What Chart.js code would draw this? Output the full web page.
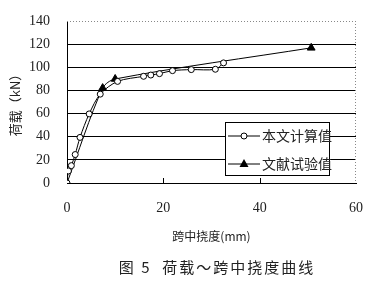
<!DOCTYPE html>
<html><head><meta charset="utf-8">
<script src="https://cdn.jsdelivr.net/npm/chart.js@4"></script>
<style>
html,body{margin:0;padding:0;background:#fff;}
#wrap{position:relative;width:368px;height:287px;}
#c{position:absolute;left:0;top:0;}
#legend{position:absolute;left:225px;top:122px;width:105px;height:54px;border:1px solid #000;background:#fff;box-sizing:border-box;font-family:"Noto Sans CJK SC";font-size:14px;color:#222;}
.row{position:absolute;left:1px;height:18px;line-height:18px;white-space:nowrap;}
.row svg{position:absolute;left:0;top:0;}
.row span{position:absolute;left:35px;top:-1px;}
#caption{position:absolute;left:0;width:434px;top:256px;text-align:center;font-family:"Noto Sans CJK SC";font-size:15px;color:#222;letter-spacing:2px;white-space:pre;}
</style></head><body>
<div id="wrap">
<canvas id="c" width="368" height="287"></canvas>
<div id="legend">
 <div class="row" style="top:4px"><svg width="36" height="18"><line x1="1" y1="9" x2="33" y2="9" stroke="#000" stroke-width="1"/><circle cx="17" cy="9" r="3" fill="#fff" stroke="#000"/></svg><span>本文计算值</span></div>
 <div class="row" style="top:32px"><svg width="36" height="18"><line x1="1" y1="9" x2="33" y2="9" stroke="#000" stroke-width="1"/><polygon points="17,4 21.5,12 12.5,12" fill="#000"/></svg><span>文献试验值</span></div>
</div>
<div id="caption">图 5  荷载～跨中挠度曲线</div>
</div>
<script>
const calcX = [0, 0.3, 0.9, 1.7, 2.7, 4.6, 6.9, 10.5, 15.9, 17.4, 19.2, 21.9, 25.8, 30.8, 32.5];
const calcY = [0, 10.4, 15, 24.6, 39.4, 59.7, 76.8, 87.8, 92.2, 93.3, 94.5, 97.1, 98, 98.3, 103.8];
const testX = [0, 7.4, 10, 50.7];
const testY = [0, 82, 89.9, 116.8];
const xTicks = [0, 20, 40, 60];
const yTicks = [0, 20, 40, 60, 80, 100, 120, 140];
const seriesNames = ['本文计算值', '文献试验值'];
const xTitle = '跨中挠度(mm)';
const yTitle = '荷载（kN）';

const toPts = (xs, ys) => xs.map((x, i) => ({x, y: ys[i]}));

const framePlugin = {
  id: 'frame',
  afterDraw(chart) {
    const {ctx, chartArea: a, scales: {x}} = chart;
    ctx.save();
    ctx.strokeStyle = '#888';
    ctx.lineWidth = 1;
    ctx.setLineDash([1, 2]);
    ctx.beginPath();
    ctx.moveTo(a.left, Math.round(a.top) + 0.5); ctx.lineTo(a.right, Math.round(a.top) + 0.5);
    ctx.moveTo(Math.round(a.right) - 0.5, a.top); ctx.lineTo(Math.round(a.right) - 0.5, a.bottom);
    ctx.stroke();
    ctx.setLineDash([]);
    ctx.strokeStyle = '#000';
    ctx.beginPath();
    xTicks.slice(1, -1).forEach(v => {
      const px = Math.round(x.getPixelForValue(v)) + 0.5;
      ctx.moveTo(px, a.bottom); ctx.lineTo(px, a.bottom - 5);
    });
    ctx.stroke();
    ctx.restore();
  }
};

new Chart(document.getElementById('c'), {
  type: 'scatter',
  data: {
    datasets: [
      {label: seriesNames[0], data: toPts(calcX, calcY), showLine: true, tension: 0.3,
       borderColor: '#000', borderWidth: 1, pointStyle: 'circle', pointRadius: 3,
       pointBackgroundColor: '#fff', pointBorderColor: '#000', pointBorderWidth: 1},
      {label: seriesNames[1], data: toPts(testX, testY), showLine: true, tension: 0.3,
       borderColor: '#000', borderWidth: 1, pointStyle: 'triangle', pointRadius: 4.5,
       pointBackgroundColor: '#000', pointBorderColor: '#000', pointBorderWidth: 1}
    ]
  },
  options: {
    responsive: false,
    animation: false,
    devicePixelRatio: 1,
    layout: {padding: {top: 21, right: 12, bottom: 39, left: 0}},
    plugins: {legend: {display: false}, tooltip: {enabled: false}},
    scales: {
      x: {
        type: 'linear', min: 0, max: 60,
        afterBuildTicks: s => { s.ticks = xTicks.map(v => ({value: v})); },
        afterFit: s => { s.height = 65; s.paddingLeft = 0; s.paddingRight = 0; },
        grid: {display: false, drawTicks: false},
        border: {color: '#000', width: 1},
        ticks: {padding: 17, color: '#222', font: {family: 'Liberation Serif', size: 14}, maxRotation: 0},
        title: {display: true, text: xTitle, color: '#222', padding: {top: 0, bottom: 4},
                font: {family: 'Noto Sans CJK SC', size: 12}}
      },
      y: {
        type: 'linear', min: 0, max: 140,
        afterBuildTicks: s => { s.ticks = yTicks.map(v => ({value: v})); },
        afterFit: s => { s.width = 67; s.paddingTop = 0; s.paddingBottom = 0; },
        grid: {drawTicks: false, color: c => (c.tick && c.tick.value === 140) ? 'rgba(0,0,0,0)' : '#000', lineWidth: 1},
        border: {color: '#000', width: 1},
        ticks: {padding: 17, color: '#222', font: {family: 'Liberation Serif', size: 14}},
        title: {display: true, text: yTitle, color: '#222', padding: {top: 7, bottom: 0},
                font: {family: 'Noto Sans CJK SC', size: 13}}
      }
    }
  },
  plugins: [framePlugin]
});
</script>
</body></html>
